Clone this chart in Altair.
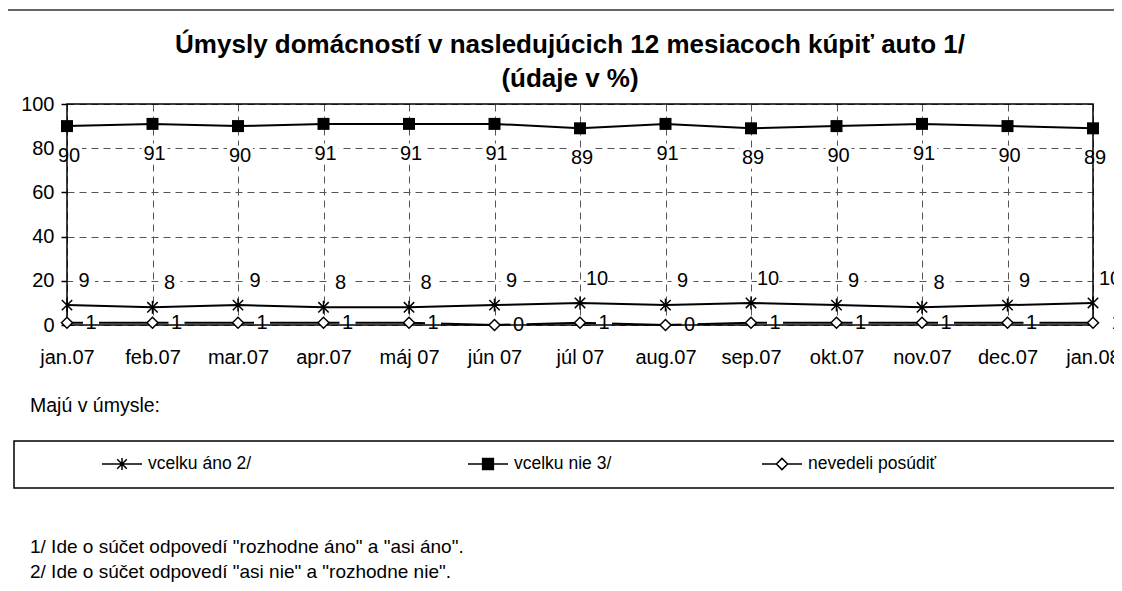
import altair as alt
import pandas as pd

# ---------------- data ----------------
months = ["jan.07", "feb.07", "mar.07", "apr.07", "máj 07", "jún 07", "júl 07",
          "aug.07", "sep.07", "okt.07", "nov.07", "dec.07", "jan.08"]
series_names = ["vcelku áno 2/", "vcelku nie 3/", "nevedeli posúdiť"]
ano = [9, 8, 9, 8, 8, 9, 10, 9, 10, 9, 8, 9, 10]
nie = [90, 91, 90, 91, 91, 91, 89, 91, 89, 90, 91, 90, 89]
nevedeli = [1, 1, 1, 1, 1, 0, 1, 0, 1, 1, 1, 1, 1]
y_ticks = [0, 20, 40, 60, 80, 100]
title_lines = ["Úmysly domácností v nasledujúcich 12 mesiacoch kúpiť auto 1/", "(údaje v %)"]
legend_heading = "Majú v úmysle:"
footnotes = ['1/ Ide o súčet odpovedí "rozhodne áno" a "asi áno".',
             '2/ Ide o súčet odpovedí "asi nie" a "rozhodne nie".']

rows = []
for name, vals in zip(series_names, [ano, nie, nevedeli]):
    for m, v in zip(months, vals):
        rows.append({"month": m, "series": name, "value": v, "label": str(v)})
df = pd.DataFrame(rows)
one = pd.DataFrame([{"k": 0}])

# ---------------- style ----------------
FONT = "Liberation Sans"
W, H = 1026, 221
GRID = "#555555"

STAR = "M0,-1V1M-0.8,-0.8L0.8,0.8M-0.8,0.8L0.8,-0.8"
RECT = "M-1,-0.8H1V0.8H-1Z"
LEG_PATHS = [
    "M-1,0H1M0,-0.3V0.3M-0.24,-0.24L0.24,0.24M-0.24,0.24L0.24,-0.24",
    "M-1,0H1M-0.27,-0.27H0.27V0.27H-0.27Z",
    "M-1,0H-0.28M0.28,0H1M-0.28,0L0,-0.28L0.28,0L0,0.28Z",
]
LEG_FILLS = ["black", "black", "white"]
LEG_X = [34, 400, 694]

x = alt.X("month:N", sort=months,
          scale=alt.Scale(type="point", padding=0, domain=months),
          axis=alt.Axis(title=None, labelAngle=0, labelFont=FONT, labelFontSize=20,
                        labelColor="black", labelPadding=22, ticks=False, domain=False,
                        grid=True, gridColor=GRID, gridDash=[7, 5], gridWidth=1))
y = alt.Y("value:Q",
          scale=alt.Scale(domain=[0, 100], nice=False, zero=True),
          axis=alt.Axis(title=None, values=y_ticks, labelFont=FONT, labelFontSize=20,
                        labelColor="black", tickColor="black", tickSize=6, tickWidth=1.5,
                        labelPadding=7, domain=False, grid=True, gridColor=GRID,
                        gridDash=[7, 5], gridWidth=1))

base = alt.Chart(df).encode(x=x, y=y)


def sel(name):
    return alt.datum.series == name


lines = base.mark_line(color="black", strokeWidth=2).encode(detail="series:N")

# white label boxes (as in the Excel data labels)
bg_nie = base.transform_filter(sel(series_names[1])).mark_point(
    shape=RECT, size=26 ** 2, filled=True, color="white", opacity=1,
    strokeOpacity=0, xOffset=2, yOffset=30)
bg_ano = base.transform_filter(sel(series_names[0])).mark_point(
    shape=RECT, size=22 ** 2, filled=True, color="white", opacity=1,
    strokeOpacity=0, xOffset=17, yOffset=-24)
bg_nev = base.transform_filter(sel(series_names[2])).mark_point(
    shape=RECT, size=16 ** 2, filled=True, color="white", opacity=1,
    strokeOpacity=0, xOffset=24, yOffset=0)

border = alt.Chart(one).mark_rect(fillOpacity=0, stroke="black", strokeWidth=1.5).encode(
    x=alt.value(0), x2=alt.value("width"), y=alt.value(0), y2=alt.value("height"))

m_ano = base.transform_filter(sel(series_names[0])).mark_point(
    shape=STAR, size=169, filled=False, stroke="black", strokeWidth=1.5, opacity=1)
m_nie = base.transform_filter(sel(series_names[1])).mark_point(
    shape="square", size=144, filled=True, color="black", opacity=1)
m_nev = base.transform_filter(sel(series_names[2])).mark_point(
    shape="diamond", size=121, filled=True, fill="white", stroke="black",
    strokeWidth=1.5, opacity=1)

t_nie = base.transform_filter(sel(series_names[1])).mark_text(
    font=FONT, fontSize=20, color="black", dx=2, dy=30).encode(text="label:N")
t_ano = base.transform_filter(sel(series_names[0])).mark_text(
    font=FONT, fontSize=20, color="black", dx=17, dy=-24).encode(text="label:N")
t_nev = base.transform_filter(sel(series_names[2])).mark_text(
    font=FONT, fontSize=20, color="black", dx=24, dy=0).encode(text="label:N")


def legend_layer(i):
    name = series_names[i]
    lg = alt.Legend(title=None, orient="none", legendX=LEG_X[i], legendY=339,
                    symbolSize=1600, symbolStrokeWidth=1.5,
                    labelFont=FONT, labelFontSize=17.5, labelColor="black",
                    labelOffset=5, padding=0, labelLimit=400)
    return base.transform_filter("false").mark_point(
        opacity=1, filled=True, strokeWidth=1.5).encode(
        shape=alt.Shape("series:N", scale=alt.Scale(domain=[name], range=[LEG_PATHS[i]]), legend=lg),
        fill=alt.Fill("series:N", scale=alt.Scale(domain=[name], range=[LEG_FILLS[i]]), legend=lg),
        stroke=alt.Stroke("series:N", scale=alt.Scale(domain=[name], range=["black"]), legend=lg),
    )


# decorations: outer chart frame, legend box, title and texts
frame = alt.Chart(one).mark_rect(fillOpacity=0, stroke="#333333", strokeWidth=1.5).encode(
    x=alt.value(-60), x2=alt.value(1140), y=alt.value(-94), y2=alt.value(520))
legend_box = alt.Chart(one).mark_rect(fillOpacity=0, stroke="black", strokeWidth=1.5).encode(
    x=alt.value(-53), x2=alt.value(1140), y=alt.value(337), y2=alt.value(384))
title = alt.Chart(one).mark_text(font=FONT, fontSize=26, fontWeight="bold", color="black",
                                 align="center", baseline="alphabetic", lineHeight=34).encode(
    x=alt.value(503), y=alt.value(-51), text=alt.value(title_lines))
heading = alt.Chart(one).mark_text(font=FONT, fontSize=19.5, color="black", align="left",
                                   baseline="middle").encode(
    x=alt.value(-37), y=alt.value(302), text=alt.value(legend_heading))
notes = alt.Chart(one).mark_text(font=FONT, fontSize=19, color="black", align="left",
                                 baseline="alphabetic", lineHeight=24.5).encode(
    x=alt.value(-37), y=alt.value(449), text=alt.value(footnotes))

chart = alt.layer(
    frame, legend_box, title, heading, notes,
    lines, bg_nie, bg_ano, bg_nev, border, m_ano, m_nie, m_nev,
    t_nie, t_ano, t_nev, legend_layer(0), legend_layer(1), legend_layer(2)
).resolve_scale(shape="independent", fill="independent", stroke="independent").properties(
    width=W, height=H,
    autosize=alt.AutoSizeParams(type="none"),
    padding={"left": 59, "top": 96, "right": 21, "bottom": 258},
    background="white",
).configure_view(strokeWidth=0)

chart.save("out.html", embed_options={"renderer": "svg", "actions": False})
